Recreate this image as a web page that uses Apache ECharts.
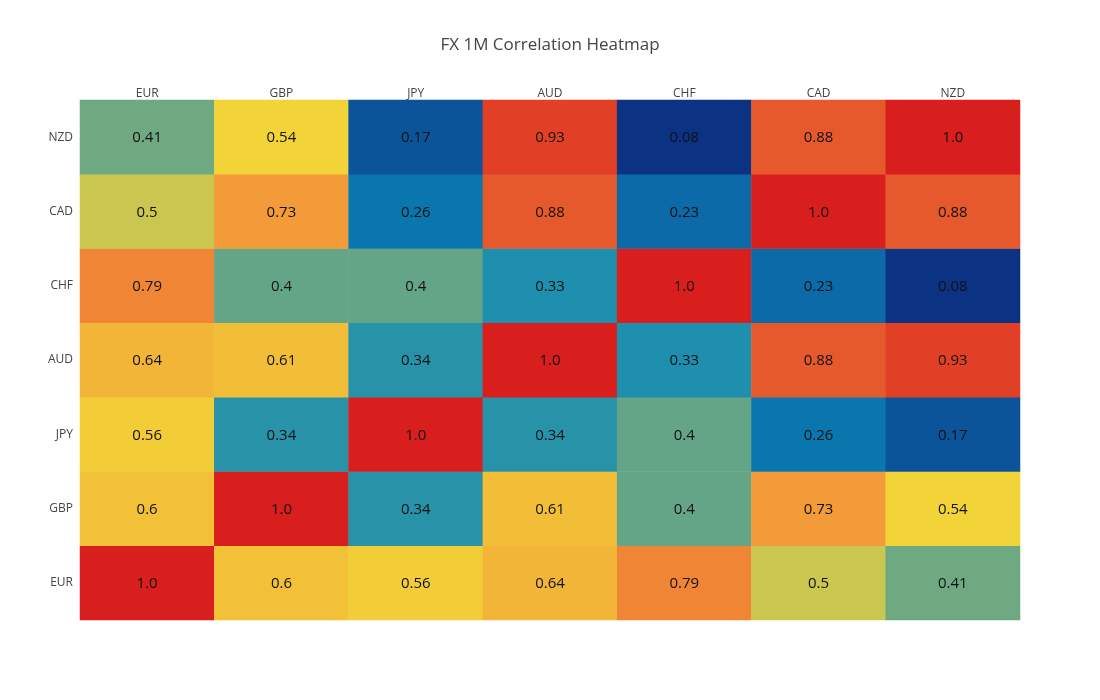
<!DOCTYPE html>
<html>
<head>
<meta charset="utf-8">
<script src="https://cdn.jsdelivr.net/npm/echarts@6/dist/echarts.min.js"></script>
<style>
  html, body { margin: 0; padding: 0; background: #fff; }
  #chartContainer { width: 1100px; height: 700px; }
</style>
</head>
<body>
<div id="chartContainer"></div>
<script>
var currencies = ['EUR', 'GBP', 'JPY', 'AUD', 'CHF', 'CAD', 'NZD'];

// one row per y category (bottom to top), one value per x category
var rowEUR = [1.0, 0.6, 0.56, 0.64, 0.79, 0.5, 0.41];
var rowGBP = [0.6, 1.0, 0.34, 0.61, 0.4, 0.73, 0.54];
var rowJPY = [0.56, 0.34, 1.0, 0.34, 0.4, 0.26, 0.17];
var rowAUD = [0.64, 0.61, 0.34, 1.0, 0.33, 0.88, 0.93];
var rowCHF = [0.79, 0.4, 0.4, 0.33, 1.0, 0.23, 0.08];
var rowCAD = [0.5, 0.73, 0.26, 0.88, 0.23, 1.0, 0.88];
var rowNZD = [0.41, 0.54, 0.17, 0.93, 0.08, 0.88, 1.0];

var rows = [rowEUR, rowGBP, rowJPY, rowAUD, rowCHF, rowCAD, rowNZD];

var cells = [];
rows.forEach(function (row, y) {
  row.forEach(function (v, x) {
    cells.push([x, y, v]);
  });
});

var chart = echarts.init(document.getElementById('chartContainer'));

chart.setOption({
  backgroundColor: '#fff',
  textStyle: { fontFamily: '"Open Sans", sans-serif' },
  title: {
    text: 'FX 1M Correlation Heatmap',
    left: 'center',
    top: 32,
    textStyle: { fontSize: 17, fontWeight: 'normal', color: '#444' }
  },
  grid: { left: 80, right: 80, top: 100, bottom: 80 },
  xAxis: {
    type: 'category',
    position: 'top',
    data: currencies,
    axisLine: { show: false },
    axisTick: { show: false },
    splitLine: { show: false },
    axisLabel: { color: '#444', fontSize: 12, margin: 0 }
  },
  yAxis: {
    type: 'category',
    data: currencies,
    axisLine: { show: false },
    axisTick: { show: false },
    splitLine: { show: false },
    axisLabel: { color: '#444', fontSize: 12, margin: 7 }
  },
  visualMap: {
    show: false,
    min: 0.08,
    max: 1.0,
    dimension: 2,
    inRange: { color: ['#0c3383', '#0a88ba', '#f2d338', '#f28f38', '#d91e1e'] }
  },
  series: [{
    type: 'heatmap',
    data: cells,
    label: {
      show: true,
      fontSize: 15,
      color: '#111',
      offset: [0, 1],
      formatter: function (p) {
        var v = p.value[2];
        return v === 1 ? '1.0' : String(v);
      }
    },
    itemStyle: { borderWidth: 0 },
    emphasis: { disabled: true }
  }]
});

window.addEventListener('resize', function () {
  chart.resize();
});
</script>
</body>
</html>
